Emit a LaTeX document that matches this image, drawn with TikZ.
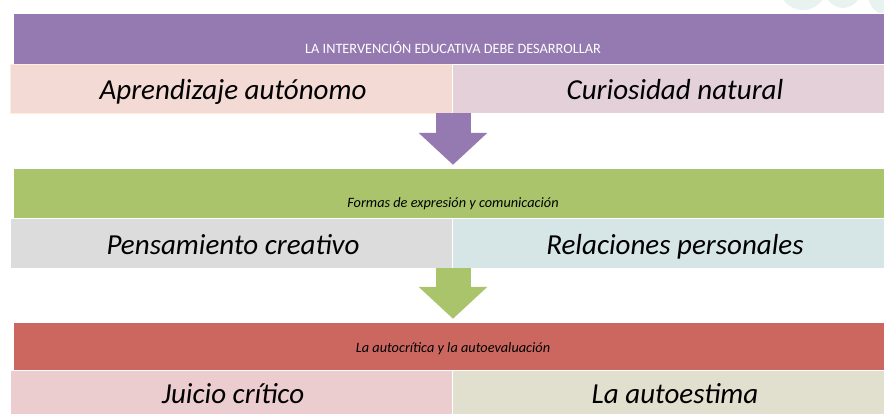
\documentclass[tikz,border=0pt]{standalone}
\usepackage{fontspec}
\setmainfont{Carlito}
\usetikzlibrary{arrows.meta}
\usetikzlibrary{shapes,arrows}
\definecolor{violeta}{RGB}{148,122,176}
\definecolor{verde}{RGB}{170,196,108}
\definecolor{rojo}{RGB}{204,103,96}
\definecolor{rosa}{RGB}{244,218,212}
\definecolor{malva}{RGB}{228,208,216}
\definecolor{gris}{RGB}{221,220,221}
\definecolor{celeste}{RGB}{214,229,229}
\definecolor{rosado}{RGB}{235,205,208}
\definecolor{beige}{RGB}{225,223,206}
\definecolor{menta}{RGB}{232,243,239}

\begin{document}
\begin{tikzpicture}[x=1pt,y=-1pt]
\tikzstyle{cabecera}=[rectangle,draw=white,minimum width=880pt,minimum height=50pt,
inner sep=0pt,text height=31pt,text depth=0pt,font=\fontsize{14.3}{16}\selectfont]
\tikzstyle{izq}=[rectangle,draw=white,minimum width=446pt,minimum height=49pt,
inner sep=0pt,text height=27pt,text depth=4pt,font=\fontsize{29}{33}\selectfont\itshape]
\tikzstyle{der}=[rectangle,draw=white,minimum width=446pt,minimum height=49pt,
inner sep=0pt,text height=27pt,text depth=4pt,font=\fontsize{29}{33}\selectfont\itshape]

\useasboundingbox (0,0) rectangle (884,414);

% manchas claras arriba a la derecha
\fill[menta] (803,-14) ellipse (24pt and 24pt);
\fill[menta] (843,-16) ellipse (20pt and 24pt);
\fill[menta] (884,-6) ellipse (16pt and 20pt);

\node[cabecera,fill=violeta,text=white,minimum height=51pt] (cab1) at (453,38.5) {LA INTERVENCIÓN EDUCATIVA DEBE DESARROLLAR};
\node[izq,fill=rosa,draw=orange!15] (aprend) at (233,88.5) {Aprendizaje autónomo};
\node[der,fill=malva] (curios) at (675,88.5) {Curiosidad natural};

\node[cabecera,fill=verde,text height=30pt] (cab2) at (453,193) {\itshape Formas de expresión y comunicación};
\node[izq,fill=gris,minimum height=50pt] (pensam) at (233,243) {Pensamiento creativo};
\node[der,fill=celeste,minimum height=50pt] (relac) at (675,243) {Relaciones personales};

\node[cabecera,fill=rojo,minimum height=48pt,text height=12pt] (cab3) at (453,346) {\itshape La autocrítica y la autoevaluación};
\node[izq,fill=rosado,text height=22pt] (juicio) at (233,394.5) {Juicio crítico};
\node[der,fill=beige,text height=22pt] (autoest) at (675,394.5) {La autoestima};

\tikzstyle{flecha}=[line width=35pt,-{Triangle[width=67pt,length=32pt]},shorten >=3pt]
\draw[flecha,violeta] (cab1.south |- aprend.south) -- (cab2.north);
\draw[flecha,verde] (cab2.south |- pensam.south) -- (cab3.north);

\end{tikzpicture}
\end{document}
